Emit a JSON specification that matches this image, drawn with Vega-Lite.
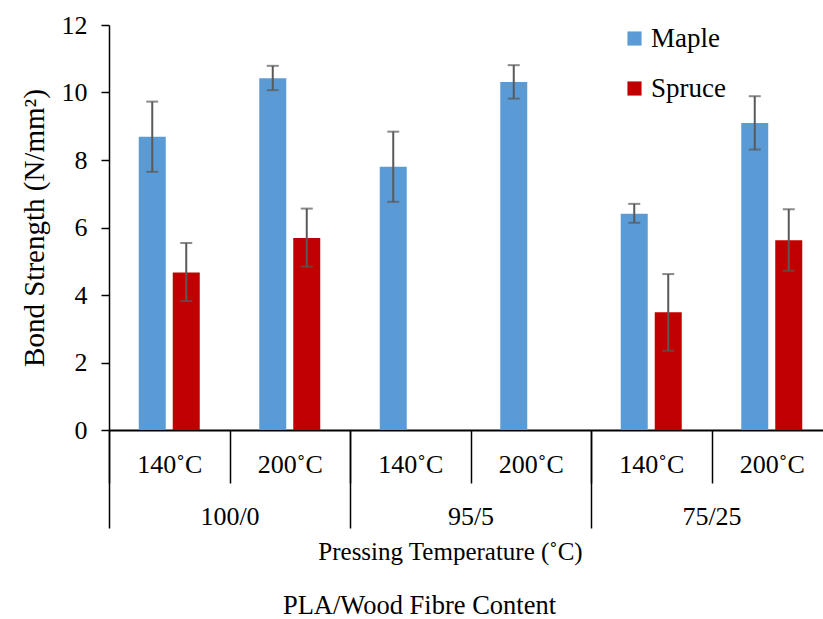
{
  "$schema": "https://vega.github.io/schema/vega-lite/v6.json",
  "width": 723,
  "height": 405,
  "padding": {"left": 20, "top": 12, "right": 0, "bottom": 5},
  "config": {
    "font": "Liberation Serif",
    "view": {"stroke": null},
    "axis": {"grid": false, "labelColor": "black", "titleColor": "black", "labelFont": "Liberation Serif", "titleFont": "Liberation Serif", "titleFontWeight": "normal", "domainColor": "black", "tickColor": "black"}
  },
  "layer": [
    {
      "data": {"values": [
        {"cell": "100/0 140˚C", "species": "Maple", "value": 8.69, "lo": 7.65, "hi": 9.73},
        {"cell": "100/0 140˚C", "species": "Spruce", "value": 4.67, "lo": 3.82, "hi": 5.54},
        {"cell": "100/0 200˚C", "species": "Maple", "value": 10.42, "lo": 10.07, "hi": 10.79},
        {"cell": "100/0 200˚C", "species": "Spruce", "value": 5.69, "lo": 4.84, "hi": 6.56},
        {"cell": "95/5 140˚C", "species": "Maple", "value": 7.80, "lo": 6.76, "hi": 8.84},
        {"cell": "95/5 200˚C", "species": "Maple", "value": 10.31, "lo": 9.82, "hi": 10.81},
        {"cell": "75/25 140˚C", "species": "Maple", "value": 6.41, "lo": 6.14, "hi": 6.70},
        {"cell": "75/25 140˚C", "species": "Spruce", "value": 3.49, "lo": 2.35, "hi": 4.62},
        {"cell": "75/25 200˚C", "species": "Maple", "value": 9.10, "lo": 8.31, "hi": 9.89},
        {"cell": "75/25 200˚C", "species": "Spruce", "value": 5.62, "lo": 4.72, "hi": 6.54}
      ]},
      "encoding": {
        "x": {
          "field": "cell", "type": "nominal", "sort": null,
          "scale": {"domain": ["100/0 140˚C", "100/0 200˚C", "95/5 140˚C", "95/5 200˚C", "75/25 140˚C", "75/25 200˚C"], "paddingInner": 0, "paddingOuter": 0},
          "axis": {"orient": "bottom", "title": "Pressing Temperature (˚C)", "titleFontSize": 25, "titleX": 341, "titleY": 109, "titleBaseline": "top", "labelAngle": 0, "labelFontSize": 26, "labelBaseline": "middle", "labelPadding": -19, "labelOffset": 60.25, "tickSize": 53, "tickWidth": 1.5, "tickOffset": -60.25, "domainWidth": 2, "labelExpr": "slice(datum.value, indexof(datum.value, ' ') + 1)"}
        },
        "xOffset": {"field": "species", "type": "nominal", "scale": {"domain": ["Maple", "Spruce"], "paddingInner": 0.206, "paddingOuter": 0.875}}
      },
      "layer": [
        {
          "mark": {"type": "bar"},
          "encoding": {
            "y": {"field": "value", "type": "quantitative", "scale": {"domain": [0, 12]},
              "axis": {"title": "Bond Strength (N/mm²)", "titleFontSize": 29, "titlePadding": 12, "values": [0, 2, 4, 6, 8, 10, 12], "labelFontSize": 26, "labelPadding": 14, "tickSize": 8, "tickWidth": 1.5, "domainWidth": 1.5}},
            "color": {"field": "species", "type": "nominal", "scale": {"domain": ["Maple", "Spruce"], "range": ["#5B9BD5", "#C00000"]},
              "legend": {"title": null, "orient": "none", "legendX": 512, "legendY": 0, "symbolType": "square", "symbolSize": 200, "labelFontSize": 27, "labelColor": "black", "labelOffset": 3, "rowPadding": 22}}
          }
        },
        {
          "mark": {"type": "rule", "color": "#595959", "strokeWidth": 2},
          "encoding": {"y": {"field": "lo", "type": "quantitative"}, "y2": {"field": "hi"}}
        },
        {
          "mark": {"type": "tick", "color": "#595959", "size": 12, "thickness": 2},
          "encoding": {"y": {"field": "lo", "type": "quantitative"}}
        },
        {
          "mark": {"type": "tick", "color": "#595959", "size": 12, "thickness": 2},
          "encoding": {"y": {"field": "hi", "type": "quantitative"}}
        }
      ]
    },
    {
      "data": {"values": [{"group": "100/0"}, {"group": "95/5"}, {"group": "75/25"}]},
      "mark": {"type": "rule", "opacity": 0},
      "encoding": {
        "x": {
          "field": "group", "type": "nominal", "sort": null,
          "scale": {"domain": ["100/0", "95/5", "75/25"], "paddingInner": 0, "paddingOuter": 0},
          "axis": {"orient": "bottom", "domain": false, "labelAngle": 0, "labelFontSize": 26, "labelBaseline": "middle", "labelPadding": -12, "labelOffset": 120.5, "tickSize": 98, "tickWidth": 1.5, "tickOffset": -120.5, "title": "PLA/Wood Fibre Content", "titleFontSize": 26.5, "titleX": 310, "titleY": 162, "titleBaseline": "top"}
        }
      }
    }
  ],
  "resolve": {"scale": {"x": "independent"}}
}
